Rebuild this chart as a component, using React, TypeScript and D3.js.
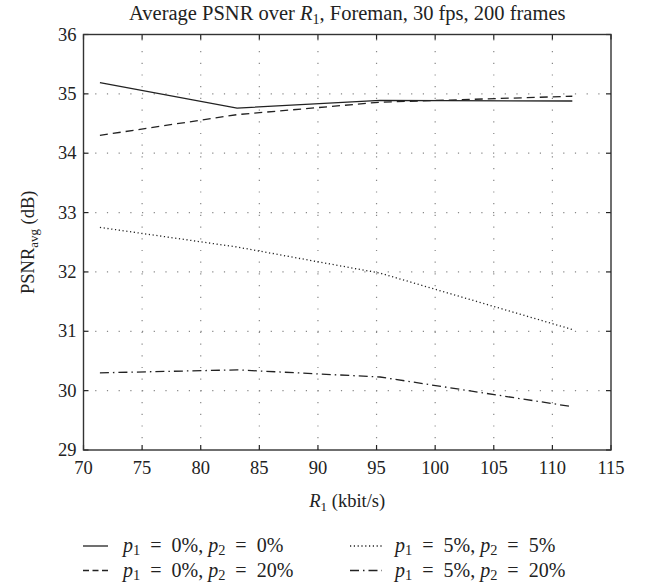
import React from 'react';
import * as d3 from 'd3';

// average PSNR (dB) against R1 (kbit/s), four loss settings
const rates = [71.4, 83.1, 95.3, 111.7];
const psnrP0P0 = [35.19, 34.76, 34.89, 34.88];
const psnrP0P20 = [34.3, 34.65, 34.86, 34.96];
const psnrP5P5 = [32.75, 32.42, 31.98, 31.03];
const psnrP5P20 = [30.3, 30.35, 30.23, 29.73];

const xTicks = [70, 75, 80, 85, 90, 95, 100, 105, 110, 115];
const yTicks = [29, 30, 31, 32, 33, 34, 35, 36];

const legendP1 = ['0', '0', '5', '5'];
const legendP2 = ['0', '20', '5', '20'];

const FONT = '"Liberation Serif", "Times New Roman", serif';
const INK = '#222';

const series = [
  { values: psnrP0P0, dash: '' },
  { values: psnrP0P20, dash: '8,5' },
  { values: psnrP5P5, dash: '1.2,2.6' },
  { values: psnrP5P20, dash: '9,4,1.5,4' },
];

// "p1 = x%, p2 = y%" with wider gaps round the equals signs
const Label = ({ p1, p2, size }: { p1: string; p2: string; size: number }) => (
  <>
    <tspan fontStyle="italic">p</tspan>
    <tspan fontSize={size * 0.72} dy={3}>1</tspan>
    <tspan dy={-3}>{`\u2002=\u2002${p1}%, `}</tspan>
    <tspan fontStyle="italic">p</tspan>
    <tspan fontSize={size * 0.72} dy={3}>2</tspan>
    <tspan dy={-3}>{`\u2002=\u2002${p2}%`}</tspan>
  </>
);

export default function App() {
  const width = 648;
  const height = 585;
  const margin = { left: 83.5, right: 37, top: 34.5, bottom: 135 };

  const x = d3.scaleLinear().domain([70, 115]).range([margin.left, width - margin.right]);
  const y = d3.scaleLinear().domain([29, 36]).range([height - margin.bottom, margin.top]);

  const line = d3
    .line<number>()
    .x((_, i) => x(rates[i]))
    .y((d) => y(d));

  const [x0, x1] = x.range();
  const [y0, y1] = y.range();
  const tickLen = 5;

  // legend geometry: [series, col, row]
  const legendCols = [
    { line: [83, 108], text: 123 },
    { line: [350, 382], text: 395 },
  ];
  const legendRows = [546, 570.5];
  const legendOrder = [
    [0, 0, 0],
    [1, 0, 1],
    [2, 1, 0],
    [3, 1, 1],
  ];
  const legendSize = 20;

  return (
    <svg
      width={width}
      height={height}
      style={{ position: 'absolute', left: 0, top: 0, background: '#fff' }}
      fontFamily={FONT}
    >
      <text x={(x0 + x1) / 2} y={20} textAnchor="middle" fontSize={20.5} fill={INK}>
        Average PSNR over <tspan fontStyle="italic">R</tspan>
        <tspan fontSize={14} dy={4}>1</tspan>
        <tspan dy={-4}>, Foreman, 30 fps, 200 frames</tspan>
      </text>

      {/* grid */}
      <g stroke="#888" strokeWidth={1.2} strokeDasharray="1.2,10.5">
        {xTicks.slice(1, -1).map((t) => (
          <line key={'gx' + t} x1={x(t)} x2={x(t)} y1={y0} y2={y1} />
        ))}
        {yTicks.slice(1, -1).map((t) => (
          <line key={'gy' + t} x1={x0} x2={x1} y1={y(t)} y2={y(t)} />
        ))}
      </g>

      {/* ticks */}
      <g stroke={INK} strokeWidth={1.2}>
        {xTicks.map((t) => (
          <g key={'tx' + t}>
            <line x1={x(t)} x2={x(t)} y1={y0} y2={y0 - tickLen} />
            <line x1={x(t)} x2={x(t)} y1={y1} y2={y1 + tickLen} />
          </g>
        ))}
        {yTicks.map((t) => (
          <g key={'ty' + t}>
            <line x1={x0} x2={x0 + tickLen} y1={y(t)} y2={y(t)} />
            <line x1={x1} x2={x1 - tickLen} y1={y(t)} y2={y(t)} />
          </g>
        ))}
      </g>

      <rect x={x0} y={y1} width={x1 - x0} height={y0 - y1} fill="none" stroke="#333" strokeWidth={1.4} />

      {/* tick labels */}
      <g fontSize={18.5} fill={INK}>
        {xTicks.map((t) => (
          <text key={'lx' + t} x={x(t)} y={y0 + 24} textAnchor="middle">
            {t}
          </text>
        ))}
        {yTicks.map((t) => (
          <text key={'ly' + t} x={x0 - 7} y={y(t) + 6} textAnchor="end">
            {t}
          </text>
        ))}
      </g>

      {/* axis titles */}
      <text x={(x0 + x1) / 2} y={507} textAnchor="middle" fontSize={18.5} fill={INK}>
        <tspan fontStyle="italic">R</tspan>
        <tspan fontSize={13} dy={4}>1</tspan>
        <tspan dy={-4}> (kbit/s)</tspan>
      </text>
      <text
        transform={`translate(${34},${(y0 + y1) / 2}) rotate(-90)`}
        textAnchor="middle"
        fontSize={18.5}
        fill={INK}
      >
        PSNR<tspan fontSize={13} dy={4}>avg</tspan>
        <tspan dy={-4}> (dB)</tspan>
      </text>

      {/* series */}
      <g fill="none" stroke={INK} strokeWidth={1.3}>
        {series.map((s, i) => (
          <path key={'s' + i} d={line(s.values) || ''} strokeDasharray={s.dash || undefined} />
        ))}
      </g>

      {/* legend */}
      {legendOrder.map(([si, col, row]) => {
        const c = legendCols[col];
        const ly = legendRows[row];
        return (
          <g key={'lg' + si}>
            <line
              x1={c.line[0]}
              x2={c.line[1]}
              y1={ly}
              y2={ly}
              stroke={INK}
              strokeWidth={1.3}
              strokeDasharray={si === 1 ? '6,3.5' : series[si].dash || undefined}
            />
            <text x={c.text} y={ly + 6} fontSize={legendSize} fill={INK}>
              <Label p1={legendP1[si]} p2={legendP2[si]} size={legendSize} />
            </text>
          </g>
        );
      })}
    </svg>
  );
}
